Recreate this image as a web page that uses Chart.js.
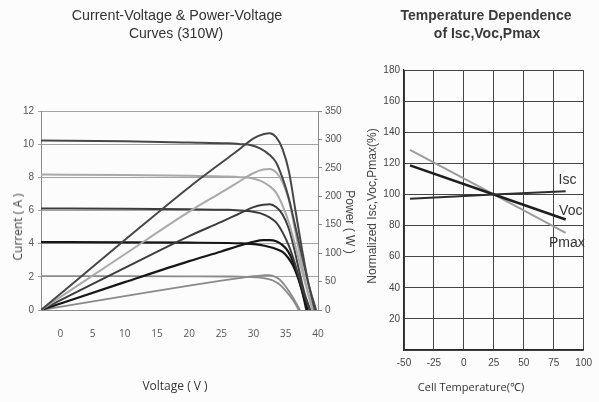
<!DOCTYPE html>
<html>
<head>
<meta charset="utf-8">
<script src="https://cdn.jsdelivr.net/npm/chart.js@4.4.1/dist/chart.umd.min.js"></script>
<style>
html,body{margin:0;padding:0;background:#fcfcfc;overflow:hidden;}
#wrap{position:relative;width:599px;height:402px;overflow:hidden;font-family:"Liberation Sans",Arial,sans-serif;color:#333;}
.r{position:absolute;white-space:nowrap;line-height:1;transform:translate(-50%,-50%) rotate(-90deg);}
.rr{position:absolute;white-space:nowrap;line-height:1;transform:translate(-50%,-50%) rotate(90deg);}
.c{position:absolute;white-space:nowrap;line-height:1;transform:translate(-50%,-50%);}
#c1{position:absolute;left:0;top:0;}
#c2{position:absolute;left:360px;top:0;}
</style>
</head>
<body>
<div id="wrap">
<canvas id="c1" width="360" height="402"></canvas>
<canvas id="c2" width="239" height="402"></canvas>
<div class="c" style="left:177px;top:15px;font-size:14.3px;color:#333;">Current-Voltage &amp; Power-Voltage</div>
<div class="c" style="left:176px;top:33px;font-size:14px;color:#333;">Curves (310W)</div>
<div class="c" style="left:486px;top:15px;font-size:14px;font-weight:bold;color:#3a3a3a;">Temperature Dependence</div>
<div class="c" style="left:487px;top:33px;font-size:14px;font-weight:bold;color:#3a3a3a;">of Isc,Voc,Pmax</div>
<div class="r" style="left:18px;top:227px;font-size:12px;font-family:'Open Sans',sans-serif;color:#444;">Current ( A )</div>
<div class="rr" style="left:350px;top:222px;font-size:12px;color:#444;">Power ( W )</div>
<div class="c" style="left:175px;top:386px;font-size:12px;font-family:'Open Sans',sans-serif;color:#333;">Voltage ( V )</div>
<div class="r" style="left:372px;top:206px;font-size:12px;color:#444;">Normalized Isc,Voc,Pmax(%)</div>
<div class="c" style="left:471px;top:386px;font-size:11px;font-family:'Open Sans',sans-serif;color:#333;">Cell Temperature(℃)</div>
</div>
<script>
// ---------- Left chart data (I-V and P-V curves, 310W module) ----------
const voltageTicks = [0, 5, 10, 15, 20, 25, 30, 35, 40];
const currentTicks = [0, 2, 4, 6, 8, 10, 12];
const powerTicks = [0, 50, 100, 150, 200, 250, 300, 350];

const ivV1000 = [-3, 10, 20, 26, 28, 29.5, 31, 32.5, 33.5, 34.5, 35.5, 36.5, 37.5, 38.5, 39.5];
const ivI1000 = [10.22, 10.17, 10.1, 10.05, 10.0, 9.95, 9.75, 9.35, 8.9, 7.95, 6.7, 5.0, 3.3, 1.6, 0];
const pvV1000 = [-3, 10, 20, 25, 27.5, 30, 31.5, 32.5, 33.5, 34.5, 35.5, 36.5, 37.5, 38.5, 39.7];
const pvP1000 = [0, 123, 216, 259, 280, 302, 309, 311, 304, 283, 243, 175, 108, 48, 0];

const ivV800 = [-3, 10, 20, 26, 28, 29.5, 31, 32.5, 33.5, 34.5, 35.5, 36.5, 37.4, 38.3, 39.1];
const ivI800 = [8.17, 8.14, 8.09, 8.05, 8.01, 7.96, 7.8, 7.46, 7.08, 6.3, 5.25, 3.85, 2.5, 1.2, 0];
const pvV800 = [-3, 10, 20, 25, 27.5, 30, 31.5, 32.5, 33.5, 34.5, 35.5, 36.5, 37.4, 38.3, 39.3];
const pvP800 = [0, 98, 173, 207, 224, 241, 247, 248, 242, 225, 192, 137, 85, 38, 0];

const ivV600 = [-3, 10, 20, 26, 28, 29.5, 31, 32.5, 33.5, 34.5, 35.5, 36.3, 37.1, 37.9, 38.7];
const ivI600 = [6.12, 6.1, 6.07, 6.04, 6.0, 5.96, 5.84, 5.58, 5.28, 4.68, 3.85, 2.95, 1.9, 0.9, 0];
const pvV600 = [-3, 10, 20, 25, 27.5, 30, 31.5, 32.5, 33.5, 34.5, 35.5, 36.3, 37.1, 37.9, 38.8];
const pvP600 = [0, 74, 130, 155, 168, 181, 185, 186, 181, 168, 142, 108, 68, 30, 0];

const ivV400 = [-3, 10, 20, 26, 28, 29.5, 31, 32.5, 33.5, 34.5, 35.3, 36.1, 36.8, 37.5, 38.2];
const ivI400 = [4.09, 4.08, 4.06, 4.04, 4.02, 3.99, 3.93, 3.8, 3.68, 3.5, 3.18, 2.7, 2.05, 1.2, 0];
const pvV400 = [-3, 10, 20, 25, 27.5, 30, 31.5, 32.5, 33.5, 34.5, 35.3, 36.1, 36.8, 37.5, 38.4];
const pvP400 = [0, 49, 86, 103, 112, 120, 123, 123, 121, 114, 104, 86, 63, 35, 0];

const ivV200 = [-3, 10, 20, 26, 28, 29.5, 31, 32, 33, 34, 34.8, 35.5, 36.1, 36.6, 37.0];
const ivI200 = [2.04, 2.04, 2.03, 2.02, 2.01, 1.99, 1.95, 1.89, 1.78, 1.55, 1.25, 0.92, 0.6, 0.28, 0];
const pvV200 = [-3, 10, 20, 25, 27.5, 30, 31.5, 32.3, 33, 34, 34.8, 35.5, 36.1, 36.7, 37.2];
const pvP200 = [0, 24.5, 43, 51.5, 55.5, 59.5, 61, 61.5, 60, 54, 44, 33, 22, 10, 0];

// ---------- Right chart data (temperature dependence) ----------
const tempTicks = [-50, -25, 0, 25, 50, 75, 100];
const normTicks = [0, 20, 40, 60, 80, 100, 120, 140, 160, 180];
const cellTemp = [-45, 25, 85];
const iscPct = [97.2, 100, 102.1];
const vocPct = [118.7, 100, 83.9];
const pmaxPct = [128.6, 100, 75.3];

// ---------- helpers ----------
const pts = (xs, ys) => xs.map((x, i) => ({x: x, y: ys[i]}));
const setTicks = arr => (s => { s.ticks = arr.map(v => ({value: v})); });

const levelStyle = [
  {name: '1000', color: '#474747', w: 2},
  {name: '800', color: '#a9a9a9', w: 2},
  {name: '600', color: '#3c3c3c', w: 2},
  {name: '400', color: '#161616', w: 2.2},
  {name: '200', color: '#8a8a8a', w: 1.8}
];
const curveSets = [
  [ivV1000, ivI1000, pvV1000, pvP1000],
  [ivV800, ivI800, pvV800, pvP800],
  [ivV600, ivI600, pvV600, pvP600],
  [ivV400, ivI400, pvV400, pvP400],
  [ivV200, ivI200, pvV200, pvP200]
];
const leftDatasets = [];
curveSets.forEach((c, k) => {
  const st = levelStyle[k];
  leftDatasets.push({label: 'I-V ' + st.name, data: pts(c[0], c[1]), yAxisID: 'y',
    borderColor: st.color, borderWidth: st.w, pointRadius: 0, fill: false, cubicInterpolationMode: 'monotone'});
  leftDatasets.push({label: 'P-V ' + st.name, data: pts(c[2], c[3]), yAxisID: 'y1',
    borderColor: st.color, borderWidth: st.w, pointRadius: 0, fill: false, cubicInterpolationMode: 'monotone'});
});

const tickFont = {family: '"Liberation Sans", Arial, sans-serif', size: 10};

new Chart(document.getElementById('c1'), {
  type: 'line',
  data: {datasets: leftDatasets},
  options: {
    responsive: false, animation: false,
    layout: {padding: {top: 111, left: 0, right: 0, bottom: 0}},
    plugins: {legend: {display: false}, tooltip: {enabled: false}},
    scales: {
      x: {type: 'linear', min: -3, max: 40,
        afterBuildTicks: setTicks(voltageTicks),
        afterFit: s => { s.height = 92; },
        grid: {display: false},
        border: {display: true, color: '#8a8a8a', width: 1},
        ticks: {font: {family: '"Open Sans", sans-serif', size: 10}, color: '#555', padding: 10, maxRotation: 0}
      },
      y: {type: 'linear', position: 'left', min: 0, max: 12,
        afterBuildTicks: setTicks(currentTicks),
        afterFit: s => { s.width = 41; },
        grid: {color: '#a3a3a3', lineWidth: 1, tickLength: 3},
        border: {display: true, color: '#8a8a8a', width: 1},
        ticks: {font: tickFont, color: '#555', padding: 4}
      },
      y1: {type: 'linear', position: 'right', min: 0, max: 350,
        afterBuildTicks: setTicks(powerTicks),
        afterFit: s => { s.width = 42; },
        grid: {drawOnChartArea: false, color: '#8a8a8a', tickLength: 4},
        border: {display: true, color: '#8a8a8a', width: 1},
        ticks: {font: tickFont, color: '#555', padding: 3}
      }
    }
  }
});

const lineLabels = [
  {text: 'Isc', x: 79, y: 109.5},
  {text: 'Voc', x: 79.5, y: 89.5},
  {text: 'Pmax', x: 71, y: 69}
];
const lineLabelPlugin = {
  id: 'lineLabels',
  afterDatasetsDraw(chart) {
    const ctx = chart.ctx, xs = chart.scales.x, ys = chart.scales.y;
    ctx.save();
    ctx.font = '14px "Liberation Sans", Arial, sans-serif';
    ctx.fillStyle = '#333';
    ctx.textAlign = 'left';
    ctx.textBaseline = 'middle';
    lineLabels.forEach(l => ctx.fillText(l.text, xs.getPixelForValue(l.x), ys.getPixelForValue(l.y)));
    ctx.restore();
  }
};

new Chart(document.getElementById('c2'), {
  type: 'line',
  data: {datasets: [
    {label: 'Isc', data: pts(cellTemp, iscPct), borderColor: '#2e2e2e', borderWidth: 2, pointRadius: 0, tension: 0},
    {label: 'Voc', data: pts(cellTemp, vocPct), borderColor: '#1e1e1e', borderWidth: 2.5, pointRadius: 0, tension: 0},
    {label: 'Pmax', data: pts(cellTemp, pmaxPct), borderColor: '#9c9c9c', borderWidth: 2, pointRadius: 0, tension: 0}
  ]},
  options: {
    responsive: false, animation: false,
    layout: {padding: {top: 70, left: 0, right: 9, bottom: 0}},
    plugins: {legend: {display: false}, tooltip: {enabled: false}},
    scales: {
      x: {type: 'linear', min: -50, max: 100,
        afterBuildTicks: setTicks(tempTicks),
        afterFit: s => { s.height = 52; },
        grid: {color: '#444', lineWidth: 1, drawTicks: false},
        border: {display: true, color: '#2a2a2a', width: 1.2},
        ticks: {font: tickFont, color: '#444', padding: 7, maxRotation: 0}
      },
      y: {type: 'linear', min: 0, max: 180,
        afterBuildTicks: setTicks(normTicks),
        afterFit: s => { s.width = 44; },
        grid: {color: '#444', lineWidth: 1, drawTicks: false},
        border: {display: true, color: '#2a2a2a', width: 1.2},
        ticks: {font: tickFont, color: '#444', padding: 4, callback: v => (v === 0 ? '' : v)}
      }
    }
  },
  plugins: [lineLabelPlugin]
});
</script>
</body>
</html>
